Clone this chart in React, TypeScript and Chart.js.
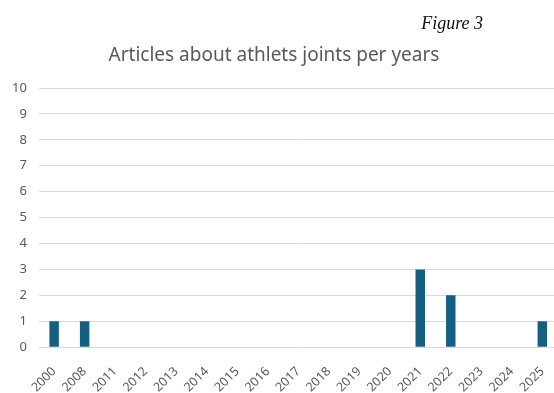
import React, { useEffect, useRef } from "react";
import { Chart, registerables } from "chart.js";

Chart.register(...registerables);

const years = [
  "2000", "2008", "2011", "2012", "2013", "2014", "2015", "2016", "2017",
  "2018", "2019", "2020", "2021", "2022", "2023", "2024", "2025",
];
const articleCounts = [1, 1, 0, 0, 0, 0, 0, 0, 0, 0, 0, 0, 3, 2, 0, 0, 1];
const yTicks = [0, 1, 2, 3, 4, 5, 6, 7, 8, 9, 10];

const FONT = "'Noto Sans', sans-serif";
const TEXT = "#595959";

export default function App() {
  const canvasRef = useRef<HTMLCanvasElement | null>(null);

  useEffect(() => {
    if (!canvasRef.current) return;
    const chart = new Chart(canvasRef.current, {
      type: "bar",
      data: {
        labels: years,
        datasets: [
          {
            data: articleCounts,
            backgroundColor: "#156082",
            borderWidth: 0,
            barPercentage: 0.31,
            categoryPercentage: 1,
          },
        ],
      },
      options: {
        animation: false,
        responsive: true,
        maintainAspectRatio: false,
        layout: { padding: { left: 0, right: 3, top: 88, bottom: -11 } },
        plugins: {
          legend: { display: false },
          tooltip: { enabled: false },
          title: { display: false },
        },
        scales: {
          x: {
            grid: { display: false },
            border: { display: false },
            ticks: {
              color: TEXT,
              font: { family: FONT, size: 12.5 },
              minRotation: 45,
              maxRotation: 45,
              autoSkip: false,
              padding: 9,
            },
          },
          y: {
            min: 0,
            max: 10,
            afterBuildTicks: (axis: any) => {
              axis.ticks = yTicks.map((v) => ({ value: v }));
            },
            grid: { color: "#d9d9d9", lineWidth: 1, drawTicks: false },
            border: { display: false },
            ticks: {
              color: TEXT,
              font: { family: FONT, size: 13 },
              padding: 12,
            },
          },
        },
      },
    });
    return () => chart.destroy();
  }, []);

  return (
    <div
      style={{
        position: "fixed",
        left: 0,
        top: 0,
        width: 554,
        height: 393,
        overflow: "hidden",
        background: "#fff",
      }}
    >
      <div style={{ position: "absolute", left: 0, top: 0, width: 562, height: 393 }}>
        <canvas ref={canvasRef} />
      </div>
      <div
        style={{
          position: "absolute",
          right: 71,
          top: 14,
          fontFamily: "'Liberation Serif', 'DejaVu Serif', serif",
          fontStyle: "italic",
          fontSize: 18,
          lineHeight: 1,
          color: "#111",
        }}
      >
        Figure 3
      </div>
      <div
        style={{
          position: "absolute",
          left: 0,
          width: 548,
          top: 45,
          textAlign: "center",
          fontFamily: FONT,
          fontSize: 19,
          lineHeight: 1,
          color: TEXT,
          whiteSpace: "nowrap",
        }}
      >
        Articles about athlets joints per years
      </div>
    </div>
  );
}
